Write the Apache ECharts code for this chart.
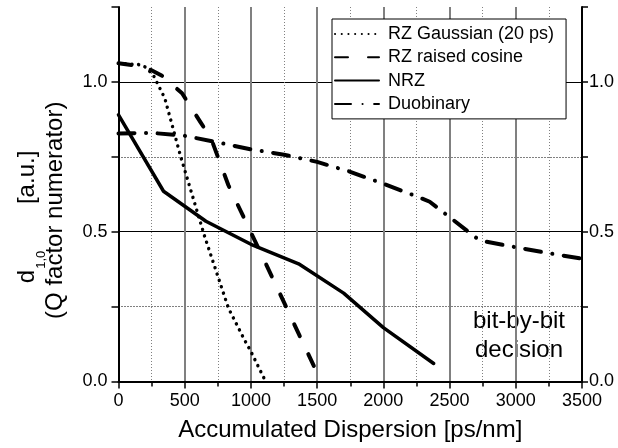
<!DOCTYPE html>
<html>
<head>
<meta charset="utf-8">
<script src="https://cdn.jsdelivr.net/npm/echarts@6/dist/echarts.min.js"></script>
<style>
  html, body { margin: 0; padding: 0; background: #fff; }
  #chart { width: 618px; height: 448px; }
</style>
</head>
<body>
<div id="chart"></div>
<script>
// Accumulated dispersion [ps/nm] and d(1,0) values for each modulation format
const gaussX = [0, 150, 200, 260, 350, 470, 650, 830, 950, 1000, 1100];
const gaussY = [1.062, 1.058, 1.05, 1.025, 0.945, 0.75, 0.485, 0.245, 0.14, 0.1, 0.01];

const cosineX = [0, 200, 330, 480, 620, 700, 830, 1100, 1530];
const cosineY = [1.062, 1.05, 1.02, 0.962, 0.865, 0.81, 0.655, 0.405, 0.0];

const nrzX = [0, 340, 660, 1000, 1360, 1700, 2000, 2380];
const nrzY = [0.89, 0.635, 0.535, 0.458, 0.393, 0.295, 0.18, 0.06];

const duoX = [0, 250, 500, 750, 1000, 1250, 1500, 1750, 2000, 2250, 2350, 2700, 2760, 3000, 3250, 3500];
const duoY = [0.828, 0.83, 0.82, 0.798, 0.775, 0.757, 0.733, 0.7, 0.66, 0.618, 0.6, 0.48, 0.468, 0.448, 0.428, 0.41];

const seriesNames = ['RZ Gaussian (20 ps)', 'RZ raised cosine', 'NRZ', 'Duobinary'];

const xTicks = { min: 0, max: 3500, interval: 500 };
const yTicks = { min: 0, max: 1.25, interval: 0.25 };

const FONT = '"Liberation Sans", Arial, Helvetica, sans-serif';

function pairs(xs, ys) {
  return xs.map((x, i) => [x, ys[i]]);
}

function xLabel(v) {
  return String(v);
}

function yLabel(v) {
  return Math.abs(v * 2 - Math.round(v * 2)) < 1e-9 ? v.toFixed(1) : '';
}

function curve(name, xs, ys, width, dash) {
  return {
    name: name,
    type: 'line',
    data: pairs(xs, ys),
    symbol: 'none',
    showSymbol: false,
    smooth: false,
    silent: true,
    itemStyle: { color: 'rgba(0,0,0,0)' },
    lineStyle: { color: '#000', width: width, type: dash, cap: 'round', join: 'round' },
    emphasis: { disabled: true },
    animation: false
  };
}

const chart = echarts.init(document.getElementById('chart'), null, { renderer: 'canvas' });

chart.setOption({
  animation: false,
  backgroundColor: '#fff',
  textStyle: { fontFamily: FONT, color: '#000' },
  grid: { left: 118.5, right: 36, top: 7, bottom: 66.5, containLabel: false },
  legend: {
    data: seriesNames,
    orient: 'vertical',
    left: 332,
    top: 19,
    padding: [5, 12, 5, 2],
    itemWidth: 44,
    itemHeight: 20,
    itemGap: 3.3,
    backgroundColor: '#fff',
    borderColor: '#000',
    borderWidth: 1,
    borderRadius: 0,
    selectedMode: false,
    itemStyle: { opacity: 0 },
    textStyle: { fontFamily: FONT, fontSize: 18, color: '#000', lineHeight: 20, padding: [0, 0, 0, 4] }
  },
  xAxis: {
    type: 'value',
    min: xTicks.min,
    max: xTicks.max,
    interval: xTicks.interval,
    name: 'Accumulated Dispersion [ps/nm]',
    nameLocation: 'middle',
    nameGap: 37,
    nameTextStyle: { fontFamily: FONT, fontSize: 24, color: '#000' },
    axisLine: { show: true, onZero: false, lineStyle: { color: '#000', width: 2 } },
    axisTick: { show: true, inside: false, length: 7, lineStyle: { color: '#000', width: 1.5 } },
    minorTick: { show: true, splitNumber: 2, length: 5, lineStyle: { color: '#000', width: 1.5 } },
    axisLabel: { show: true, formatter: xLabel, fontFamily: FONT, fontSize: 18, color: '#000', margin: 11 },
    splitLine: { show: true, showMinLine: false, showMaxLine: false, lineStyle: { color: '#808080', width: 2, type: 'solid' } },
    minorSplitLine: { show: true, lineStyle: { color: '#808080', width: 1, type: [1, 2] } }
  },
  yAxis: [
    {
      type: 'value',
      position: 'left',
      min: yTicks.min,
      max: yTicks.max,
      interval: yTicks.interval,
      name: '{d|d}{s|1,0}{d|       [a.u.]  }\n{d|(Q factor numerator)}',
      nameLocation: 'middle',
      nameRotate: 90,
      nameGap: 47,
      nameTextStyle: {
        fontFamily: FONT, color: '#000',
        padding: [0, 32, 0, 0],
        rich: {
          d: { fontFamily: FONT, fontSize: 24, lineHeight: 28, verticalAlign: 'top', color: '#000' },
          s: { fontFamily: FONT, fontSize: 13, lineHeight: 13, padding: [19, 0, 0, 1], verticalAlign: 'top', color: '#000' }
        }
      },
      axisLine: { show: true, onZero: false, lineStyle: { color: '#000', width: 2 } },
      axisTick: { show: true, inside: false, length: 7, lineStyle: { color: '#000', width: 1.5 } },
      axisLabel: { show: true, formatter: yLabel, fontFamily: FONT, fontSize: 18, color: '#000', margin: 11 },
      splitLine: { show: true, showMinLine: false, showMaxLine: false, lineStyle: { color: '#000', width: 1, type: [1, 2] } }
    },
    {
      type: 'value',
      position: 'right',
      min: yTicks.min,
      max: yTicks.max,
      interval: yTicks.interval,
      axisLine: { show: true, onZero: false, lineStyle: { color: '#000', width: 2 } },
      axisTick: { show: true, inside: false, length: 6, lineStyle: { color: '#000', width: 1.5 } },
      axisLabel: { show: true, formatter: yLabel, fontFamily: FONT, fontSize: 18, color: '#000', margin: 7 },
      // solid lines at the labelled values, alternating with transparent ones
      splitLine: { show: true, showMinLine: false, showMaxLine: false, lineStyle: { color: ['rgba(0,0,0,0)', '#000'], width: 1, type: 'solid' } }
    }
  ],
  graphic: [
    {
      type: 'text',
      x: 519,
      y: 336,
      silent: true,
      style: {
        text: 'bit-by-bit\ndecision',
        fill: '#000',
        font: '24px ' + FONT,
        align: 'center',
        verticalAlign: 'middle',
        lineHeight: 29
      }
    }
  ],
  series: [
    curve(seriesNames[0], gaussX, gaussY, 3.4, [0.1, 6.6]),
    curve(seriesNames[1], cosineX, cosineY, 4, [13, 20]),
    curve(seriesNames[2], nrzX, nrzY, 3.5, 'solid'),
    curve(seriesNames[3], duoX, duoY, 4, [16, 11.5, 0.1, 11.5])
  ]
});
</script>
</body>
</html>
